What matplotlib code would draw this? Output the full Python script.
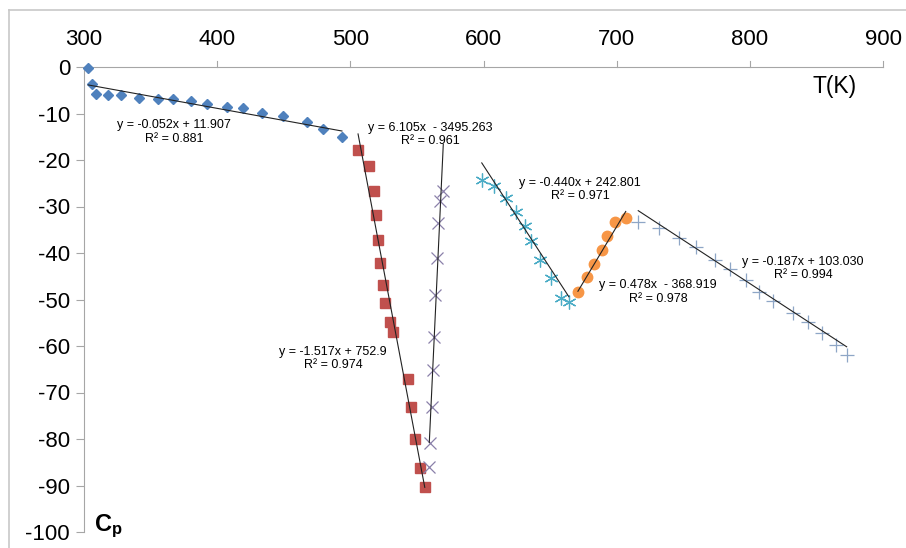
import numpy as np
import matplotlib
matplotlib.use("Agg")
import matplotlib.pyplot as plt
from matplotlib.lines import Line2D

plt.rcParams['font.family'] = ['Liberation Sans', 'DejaVu Sans']
plt.rcParams['mathtext.fontset'] = 'custom'
plt.rcParams['mathtext.bf'] = 'Liberation Sans:bold'
plt.rcParams['mathtext.rm'] = 'Liberation Sans'

# Heat capacity Cp versus temperature T(K), split into six regions
t1 = [303.2, 306.2, 308.8, 318.3, 327.6, 341.6, 355.6, 367.1, 380.2, 392.7,
      407.5, 419.3, 433.8, 449.1, 467.4, 479.7, 493.7]
c1 = [-0.3, -3.7, -5.8, -6.0, -6.0, -6.7, -6.8, -6.8, -7.4, -8.0,
      -8.6, -8.9, -9.8, -10.6, -11.9, -13.3, -15.0]

t2 = [505.8, 513.8, 517.6, 519.6, 520.6, 522.3, 524.4, 526.1, 529.6, 532.1,
      543.4, 545.9, 548.9, 552.1, 555.9]
c2 = [-17.9, -21.2, -26.6, -31.9, -37.1, -42.2, -46.9, -50.8, -54.8, -56.9,
      -67.0, -73.1, -80.0, -86.3, -90.3]

t3 = [569.8, 567.4, 566.2, 564.9, 563.9, 562.9, 562.4, 561.5, 559.8, 559.3]
c3 = [-26.6, -28.9, -33.6, -41.1, -49.0, -58.0, -65.2, -73.1, -80.8, -86.0]

t4 = [598.7, 607.7, 617.0, 624.5, 631.5, 636.0, 642.1, 650.4, 657.9, 664.1]
c4 = [-24.3, -25.5, -28.2, -31.1, -34.3, -37.4, -41.4, -45.4, -49.7, -50.5]

t5 = [670.9, 677.7, 683.0, 689.2, 692.7, 698.5, 706.8]
c5 = [-48.3, -45.2, -42.4, -39.4, -36.3, -33.4, -32.5]

t6 = [716.2, 732.0, 747.0, 759.5, 774.1, 785.1, 797.1, 806.6, 817.1, 832.1,
      843.4, 853.9, 864.4, 872.7]
c6 = [-33.3, -34.7, -36.7, -38.8, -41.5, -43.4, -45.8, -48.3, -50.3, -53.0,
      -54.8, -57.1, -59.8, -61.9]

# Linear fit coefficients (slope, intercept, R²) for each region, same order as the series
fits = [(-0.052, 11.907, 0.881),
        (-1.517, 752.9, 0.974),
        (6.105, -3495.263, 0.961),
        (-0.440, 242.801, 0.971),
        (0.478, -368.919, 0.978),
        (-0.187, 103.030, 0.994)]
eq_text = ["y = -0.052x + 11.907", "y = -1.517x + 752.9", "y = 6.105x  - 3495.263",
           "y = -0.440x + 242.801", "y = 0.478x  - 368.919", "y = -0.187x + 103.030"]
# label anchor (T, Cp) for each equation
eq_pos = [(367.6, -12.5), (487.0, -61.2), (559.8, -13.1),
          (672.5, -24.9), (731.0, -46.9), (839.9, -41.9)]

x_ticks = [300, 400, 500, 600, 700, 800, 900]
y_ticks = [0, -10, -20, -30, -40, -50, -60, -70, -80, -90, -100]

fig = plt.figure(figsize=(9.06, 5.48), dpi=100)
ax = fig.add_axes([84 / 906, 1 - 532 / 548, (883 - 84) / 906, (532 - 67) / 548])

# outer frame (top and left edges)
frame_col = '#c8c8c8'
fig.add_artist(Line2D([9 / 906, 1], [1 - 10 / 548, 1 - 10 / 548], transform=fig.transFigure,
                      color=frame_col, lw=1.2))
fig.add_artist(Line2D([9 / 906, 9 / 906], [0, 1 - 10 / 548], transform=fig.transFigure,
                      color=frame_col, lw=1.2))

series = [
    (t1, c1, dict(marker='D', ms=5.5, color='#4f81bd', mec='#4f81bd')),
    (t2, c2, dict(marker='s', ms=7.5, color='#c0504d', mec='#c0504d')),
    (t3, c3, dict(marker='x', ms=9, color='#8a80aa', mew=0.9)),
    (t4, c4, dict(marker=(6, 2, 0), ms=10, color='#4bacc6', mew=0.9)),
    (t5, c5, dict(marker='o', ms=7.5, color='#f79646', mec='#f79646')),
    (t6, c6, dict(marker='+', ms=10, color='#8ea6c6', mew=0.9)),
]

for (t, c, style), (m, b, r2), txt, (ex, ey) in zip(series, fits, eq_text, eq_pos):
    ax.plot(t, c, ls='none', clip_on=False, zorder=3, **style)
    xs = np.array([min(t), max(t)])
    ax.plot(xs, m * xs + b, color='#222222', lw=0.8, zorder=4, clip_on=False)
    ax.text(ex, ey, txt, ha='center', va='center', fontsize=9)
    ax.text(ex, ey - 2.9, f"R² = {r2:.3f}", ha='center', va='center', fontsize=9)

ax.set_xlim(300, 900)
ax.set_ylim(-100, 0)
ax.set_xticks(x_ticks)
ax.set_yticks(y_ticks)
ax.set_xticklabels([str(v) for v in x_ticks])
ax.set_yticklabels([str(v) for v in y_ticks])

spine_col = '#a6a6a6'
for s in ['right', 'bottom']:
    ax.spines[s].set_visible(False)
ax.spines['top'].set_color(spine_col)
ax.spines['left'].set_color(spine_col)
ax.xaxis.set_ticks_position('top')
ax.xaxis.set_label_position('top')
ax.tick_params(axis='x', direction='in', length=0, labelsize=16, pad=12, colors='black')
ax.tick_params(axis='y', direction='out', length=6, width=0.8, color=spine_col,
               labelsize=16, pad=4)
# upward ticks on the horizontal axis
for v in x_ticks[1:]:
    ax.plot([v, v], [0, 1.3], color=spine_col, lw=0.8, clip_on=False)
ax.set_facecolor('none')

ax.text(880.5, -4.2, "T(K)", ha='right', va='center', fontsize=16.5)
ax.text(307.5, -98.8, r"$\mathbf{C_p}$", ha='left', va='center', fontsize=17)

fig.savefig("out.png", dpi=100)
